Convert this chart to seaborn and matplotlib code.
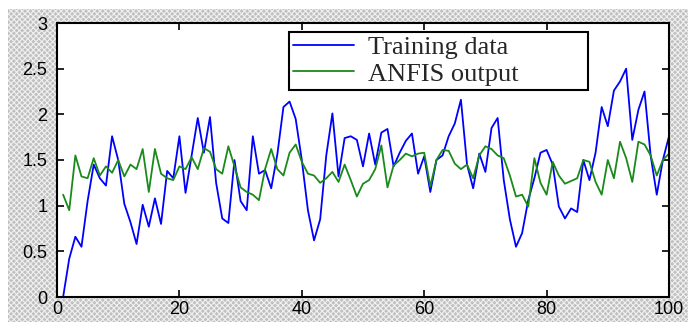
import numpy as np
import pandas as pd
import matplotlib
matplotlib.use("Agg")
import matplotlib.pyplot as plt
from matplotlib.patches import Rectangle
import seaborn as sns

# sample index 1..100
t = np.arange(1, 101)

training_data = [
    0.00, 0.42, 0.66, 0.55, 1.05, 1.45, 1.30, 1.22, 1.76, 1.50,
    1.02, 0.82, 0.58, 1.01, 0.77, 1.08, 0.80, 1.38, 1.30, 1.76,
    1.14, 1.55, 1.96, 1.58, 1.97, 1.25, 0.86, 0.81, 1.50, 1.05,
    0.95, 1.76, 1.35, 1.39, 1.19, 1.56, 2.08, 2.14, 1.95, 1.50,
    0.95, 0.62, 0.85, 1.55, 2.01, 1.32, 1.74, 1.76, 1.72, 1.43,
    1.79, 1.45, 1.80, 1.84, 1.43, 1.58, 1.71, 1.79, 1.35, 1.54,
    1.15, 1.50, 1.55, 1.76, 1.90, 2.16, 1.45, 1.19, 1.57, 1.37,
    1.85, 1.96, 1.28, 0.85, 0.55, 0.70, 1.06, 1.30, 1.58, 1.61,
    1.45, 0.99, 0.86, 0.97, 0.93, 1.50, 1.28, 1.58, 2.08, 1.87,
    2.26, 2.36, 2.50, 1.72, 2.05, 2.25, 1.55, 1.12, 1.50, 1.76,
]

anfis_output = [
    1.12, 0.95, 1.55, 1.32, 1.30, 1.52, 1.33, 1.43, 1.36, 1.50,
    1.32, 1.45, 1.40, 1.62, 1.15, 1.62, 1.35, 1.30, 1.28, 1.43,
    1.40, 1.53, 1.40, 1.63, 1.59, 1.40, 1.35, 1.65, 1.43, 1.20,
    1.15, 1.12, 1.06, 1.40, 1.62, 1.40, 1.33, 1.58, 1.67, 1.48,
    1.35, 1.33, 1.25, 1.30, 1.37, 1.26, 1.45, 1.28, 1.10, 1.24,
    1.28, 1.40, 1.66, 1.20, 1.44, 1.50, 1.57, 1.54, 1.57, 1.58,
    1.21, 1.50, 1.61, 1.60, 1.46, 1.40, 1.45, 1.30, 1.55, 1.65,
    1.62, 1.55, 1.52, 1.33, 1.10, 1.12, 0.99, 1.52, 1.25, 1.12,
    1.48, 1.33, 1.24, 1.27, 1.30, 1.50, 1.48, 1.26, 1.12, 1.50,
    1.30, 1.70, 1.52, 1.26, 1.70, 1.67, 1.55, 1.33, 1.50, 1.57,
]

series_names = ["Training data", "ANFIS output"]
x_ticks = [0, 20, 40, 60, 80, 100]
y_ticks = [0, 0.5, 1, 1.5, 2, 2.5, 3]
y_tick_labels = ["0", "0.5", "1", "1.5", "2", "2.5", "3"]

df = pd.concat([
    pd.DataFrame({"t": t, "value": training_data, "series": series_names[0]}),
    pd.DataFrame({"t": t, "value": anfis_output, "series": series_names[1]}),
])

sns.set_style("ticks")
plt.rcParams["font.family"] = ["Liberation Sans", "DejaVu Sans"]
plt.rcParams["hatch.linewidth"] = 0.8

fig = plt.figure(figsize=(6.88, 3.22), dpi=100)
fig.patch.set_facecolor("white")

# dithered grey background like the old MATLAB screenshot
bg = Rectangle((8 / 688, 0), 1, (322 - 9) / 322, transform=fig.transFigure,
               facecolor="#c0c0c0", edgecolor="#f0f0f0", hatch="xxxxxx",
               linewidth=0, zorder=-10)
fig.patches.append(bg)

ax = fig.add_axes([57 / 688, 25 / 322, (669 - 57) / 688, (297 - 23) / 322])
ax.set_facecolor("white")

sns.lineplot(data=df, x="t", y="value", hue="series",
             palette=["#0000ff", "#1a8a1a"], linewidth=1.3,
             legend=False, ax=ax)

ax.set_xlim(0, 100)
ax.set_ylim(0, 3)
ax.set_xticks(x_ticks)
ax.set_yticks(y_ticks)
ax.set_yticklabels(y_tick_labels)
ax.set_xlabel("")
ax.set_ylabel("")
ax.tick_params(direction="in", length=5, width=1.2, top=True, right=True,
               labelsize=13, colors="black")
ax.tick_params(axis="y", pad=7)
ax.tick_params(axis="x", pad=3)
for sp in ax.spines.values():
    sp.set_visible(True)
    sp.set_color("black")
    sp.set_linewidth(1.5)

leg = ax.legend(ax.get_lines()[:2], series_names, loc="upper left",
                bbox_to_anchor=(0.379, 0.759, 0.489, 0.208), mode="expand",
                fancybox=False, framealpha=1, edgecolor="black",
                prop={"family": "Liberation Serif", "size": 19},
                handlelength=2.3, handletextpad=0.55, borderpad=0.15,
                labelspacing=0.1, borderaxespad=0)
leg.get_frame().set_linewidth(1.5)

fig.savefig("out.png", dpi=100, facecolor=fig.get_facecolor())
